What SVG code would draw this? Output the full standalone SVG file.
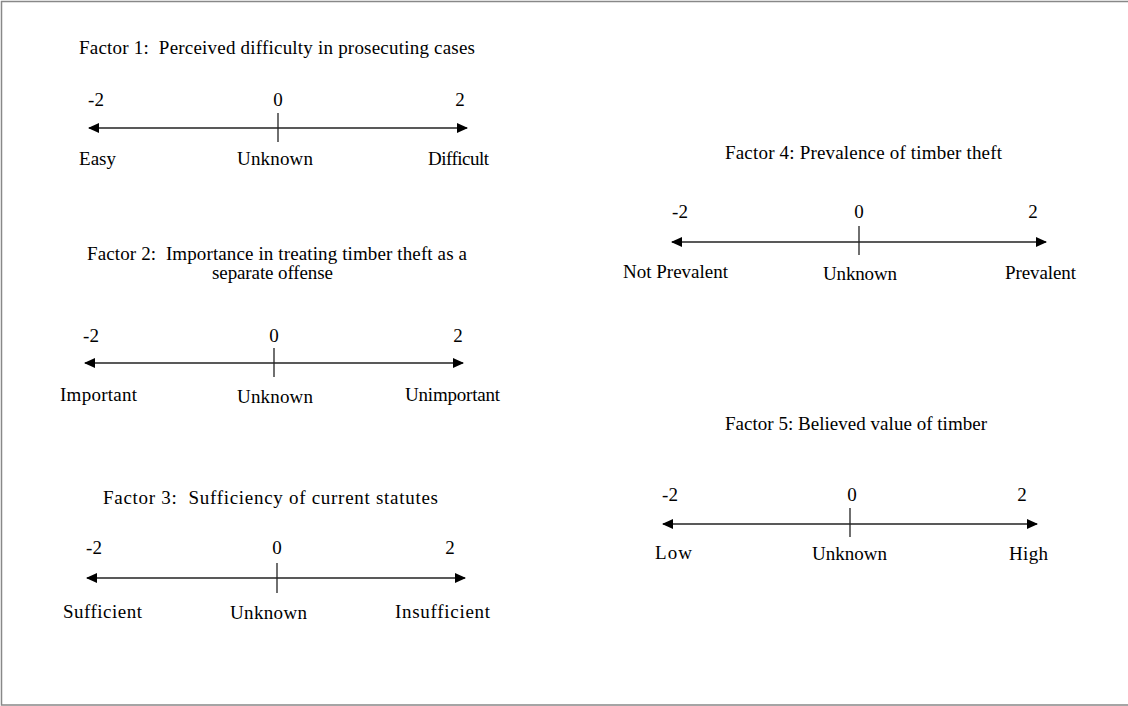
<svg xmlns="http://www.w3.org/2000/svg" width="1128" height="706" viewBox="0 0 1128 706">
<style>
text{font-family:"Liberation Serif","Times New Roman",serif;font-size:19px;fill:#000;text-anchor:middle;white-space:pre}
.axis{stroke:#222;stroke-width:1.5;fill:none;marker-start:url(#ah);marker-end:url(#ah)}
.tick{stroke:#222;stroke-width:1.3}
.frame{stroke:#888;stroke-width:1.5;fill:none}
</style>
<defs>
<marker id="ah" viewBox="0 0 11 10" refX="10" refY="5" markerWidth="11" markerHeight="10" markerUnits="userSpaceOnUse" orient="auto-start-reverse">
<path d="M0,0 L11,5 L0,10 z" fill="#000"/>
</marker>
</defs>
<rect width="1128" height="706" fill="#fff"/>
<path class="frame" d="M1128,1.5 H1.5 V705 H1128"/>

<g id="connectors">
<line class="axis" x1="89" y1="128" x2="467" y2="128"/>
<line class="tick" x1="278" y1="113" x2="278" y2="142"/>
<line class="axis" x1="85" y1="363" x2="463" y2="363"/>
<line class="tick" x1="274" y1="348" x2="274" y2="377"/>
<line class="axis" x1="87" y1="578" x2="465" y2="578"/>
<line class="tick" x1="277" y1="563" x2="277" y2="593"/>
<line class="axis" x1="672" y1="242" x2="1046" y2="242"/>
<line class="tick" x1="859" y1="226" x2="859" y2="255"/>
<line class="axis" x1="663" y1="524" x2="1037" y2="524"/>
<line class="tick" x1="850" y1="508" x2="850" y2="537"/>
</g>

<g id="factor1">
<text x="277" y="54" textLength="396" lengthAdjust="spacing" xml:space="preserve">Factor 1:  Perceived difficulty in prosecuting cases</text>
<text x="96" y="106">-2</text>
<text x="278" y="106">0</text>
<text x="460" y="106">2</text>
<text x="97.5" y="165" textLength="37" lengthAdjust="spacing">Easy</text>
<text x="275" y="165" textLength="76" lengthAdjust="spacing">Unknown</text>
<text x="458.5" y="165" textLength="61" lengthAdjust="spacing">Difficult</text>
</g>

<g id="factor2">
<text x="277" y="260" textLength="380" lengthAdjust="spacing" xml:space="preserve">Factor 2:  Importance in treating timber theft as a</text>
<text x="272.5" y="279" textLength="121" lengthAdjust="spacing">separate offense</text>
<text x="91" y="342">-2</text>
<text x="274" y="342">0</text>
<text x="458" y="342">2</text>
<text x="98.5" y="401" textLength="77" lengthAdjust="spacing">Important</text>
<text x="275" y="403" textLength="76" lengthAdjust="spacing">Unknown</text>
<text x="452.5" y="401" textLength="95" lengthAdjust="spacing">Unimportant</text>
</g>

<g id="factor3">
<text x="270.5" y="504" textLength="335" lengthAdjust="spacing" xml:space="preserve">Factor 3:  Sufficiency of current statutes</text>
<text x="94" y="554">-2</text>
<text x="277" y="554">0</text>
<text x="450" y="554">2</text>
<text x="102.5" y="618" textLength="79" lengthAdjust="spacing">Sufficient</text>
<text x="268.5" y="619" textLength="77" lengthAdjust="spacing">Unknown</text>
<text x="442.5" y="618" textLength="95" lengthAdjust="spacing">Insufficient</text>
</g>

<g id="factor4">
<text x="863.5" y="159" textLength="277" lengthAdjust="spacing">Factor 4: Prevalence of timber theft</text>
<text x="680" y="218">-2</text>
<text x="859" y="218">0</text>
<text x="1033" y="218">2</text>
<text x="675.5" y="278" textLength="105" lengthAdjust="spacing">Not Prevalent</text>
<text x="860" y="280" textLength="74" lengthAdjust="spacing">Unknown</text>
<text x="1040.5" y="279" textLength="71" lengthAdjust="spacing">Prevalent</text>
</g>

<g id="factor5">
<text x="856" y="430" textLength="262" lengthAdjust="spacing">Factor 5: Believed value of timber</text>
<text x="670" y="501">-2</text>
<text x="852" y="501">0</text>
<text x="1022" y="501">2</text>
<text x="673.5" y="559" textLength="37" lengthAdjust="spacing">Low</text>
<text x="849.5" y="560" textLength="75" lengthAdjust="spacing">Unknown</text>
<text x="1028.5" y="560" textLength="39" lengthAdjust="spacing">High</text>
</g>
</svg>
